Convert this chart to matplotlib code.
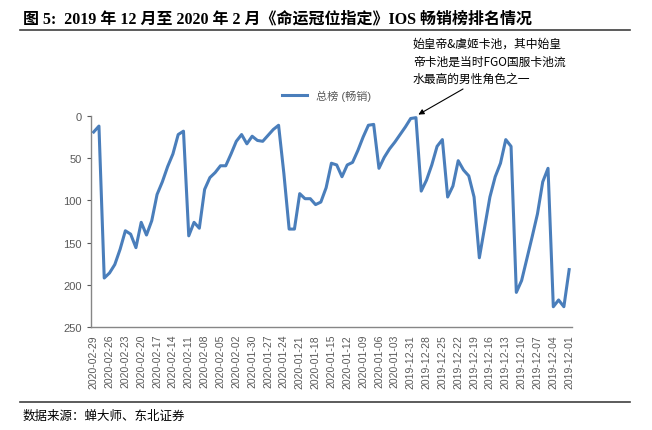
import matplotlib
matplotlib.use('Agg')
import matplotlib.pyplot as plt
import pandas as pd

plt.rcParams['font.family'] = ['Liberation Sans', 'Noto Sans CJK SC', 'DejaVu Sans']

# dates run backwards, as in the source chart
dates = [d.strftime('%Y-%m-%d') for d in pd.date_range('2019-12-01', '2020-02-29')[::-1]]

# iOS grossing rank (总榜 畅销), 2020-02-29 -> 2019-12-01
rank = [19, 12, 192, 186, 176, 158, 136, 140, 156, 126, 141, 124, 93, 78, 60, 45, 22, 18,
        142, 126, 133, 87, 73, 67, 59, 59, 45, 30, 22, 33, 24, 29, 30, 23, 16, 11,
        68, 134, 134, 92, 98, 98, 105, 102, 85, 56, 58, 72, 58, 55, 41, 25, 11, 10,
        62, 49, 39, 31, 22, 13, 3, 2, 89, 76, 58, 36, 28, 96, 83, 53, 64, 71, 96,
        168, 132, 96, 72, 56, 28, 36, 209, 195, 169, 143, 116, 78, 62, 226, 218, 226, 182]

title = '图 5:  2019 年 12 月至 2020 年 2 月《命运冠位指定》IOS 畅销榜排名情况'
note = '始皇帝&虞姬卡池，其中始皇\n帝卡池是当时FGO国服卡池流\n水最高的男性角色之一'
source = '数据来源：蝉大师、东北证券'

fig = plt.figure(figsize=(6.52, 4.31), dpi=100)
ax = fig.add_axes([0.1396, 0.239, 0.7374, 0.4896])

x = list(range(len(dates)))
ax.plot(x, rank, color='#4a7ebb', lw=2.2, label='总榜 (畅销)')

ax.set_xlim(-0.5, len(dates) - 0.5)
ax.set_ylim(250, 0)
ax.set_yticks([0, 50, 100, 150, 200, 250])
ax.set_xticks(x[::3])
ax.set_xticklabels(dates[::3], rotation=90, fontsize=7.5, color='#595959')
ax.tick_params(axis='y', labelsize=8, colors='#595959', length=3)
ax.tick_params(axis='x', length=0, pad=5)
for s in ['top', 'right']:
    ax.spines[s].set_visible(False)
for s in ['left', 'bottom']:
    ax.spines[s].set_color('#868686')
    ax.spines[s].set_linewidth(1)

ax.legend(loc='upper center', bbox_to_anchor=(0.49, 1.17), frameon=False,
          fontsize=8, handlelength=2.2, labelcolor='#595959')

fig.text(413 / 652, 1 - 38 / 431, note, fontsize=8.5, va='top', ha='left',
         linespacing=1.45, family=['Noto Sans CJK SC', 'DejaVu Sans'])
ax.annotate('', xy=(61, 0), xytext=(463, 341), textcoords='figure pixels',
            arrowprops=dict(arrowstyle='-|>', color='black', lw=0.8,
                            shrinkA=0, shrinkB=2, mutation_scale=8))

fig.text(0.035, 0.955, title, fontsize=11.5, fontweight='bold', va='center',
         family=['Liberation Serif', 'Noto Sans CJK SC'])
fig.add_artist(plt.Line2D([0.03, 0.967], [0.928, 0.928], color='#404040', lw=1.2))
fig.add_artist(plt.Line2D([0.03, 0.967], [0.066, 0.066], color='#404040', lw=1.2))
fig.text(0.035, 0.035, source, fontsize=9, va='center',
         family=['Noto Sans CJK SC', 'DejaVu Sans'])

fig.savefig('out.png', dpi=100)
